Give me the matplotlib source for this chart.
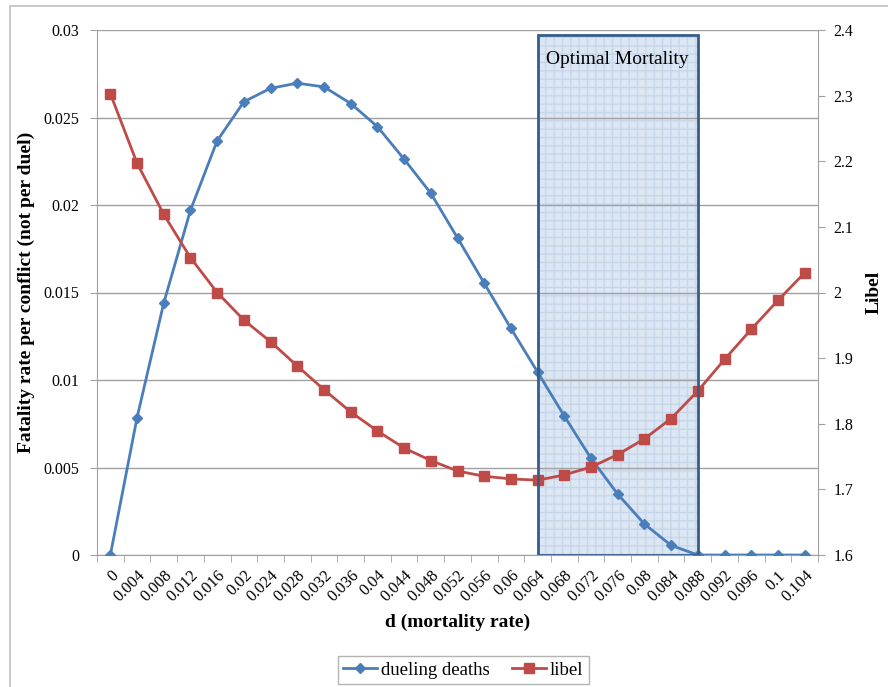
import numpy as np
import matplotlib.pyplot as plt
from matplotlib.patches import Rectangle

plt.rcParams['font.family'] = ['Liberation Serif', 'DejaVu Serif']

# mortality rate categories
d_labels = ['0', '0.004', '0.008', '0.012', '0.016', '0.02', '0.024', '0.028',
            '0.032', '0.036', '0.04', '0.044', '0.048', '0.052', '0.056', '0.06',
            '0.064', '0.068', '0.072', '0.076', '0.08', '0.084', '0.088', '0.092',
            '0.096', '0.1', '0.104']

dueling_deaths = [0, 0.00785, 0.0144, 0.0197, 0.02367, 0.0259, 0.02667, 0.02696,
                  0.02675, 0.0258, 0.02448, 0.02262, 0.02067, 0.01812, 0.01553,
                  0.01295, 0.01045, 0.00794, 0.00552, 0.00348, 0.00177, 0.00055,
                  0, 0, 0, 0, 0]

libel = [2.303, 2.197, 2.119, 2.053, 2.000, 1.958, 1.925, 1.888, 1.852, 1.818,
         1.789, 1.763, 1.744, 1.728, 1.720, 1.716, 1.714, 1.722, 1.734, 1.753,
         1.777, 1.808, 1.850, 1.898, 1.944, 1.988, 2.030]

opt_lo, opt_hi = '0.064', '0.088'

blue = '#4a7ebb'
red = '#be4b48'
grid_c = '#a0a0a0'

fig = plt.figure(figsize=(8.88, 6.87), dpi=100)
ax = fig.add_axes([97/888, 132/687, 721/888, 525/687])
ax2 = ax.twinx()

x = np.arange(len(d_labels))

# optimal mortality box
i0 = d_labels.index(opt_lo)
i1 = d_labels.index(opt_hi)
ax.add_patch(Rectangle((i0, 0), i1 - i0, 0.0297, facecolor='#dde7f3',
                       edgecolor='#c6d6ea', hatch='++', linewidth=0, zorder=1))
ax.add_patch(Rectangle((i0, 0), i1 - i0, 0.0297, facecolor='none',
                       edgecolor='#355d8c', linewidth=2, zorder=4))
ax.text(i0 + (i1 - i0) / 2, 0.0283, 'Optimal Mortality', ha='center', va='center',
        fontsize=14, zorder=5)

l1, = ax.plot(x, dueling_deaths, color=blue, lw=2, marker='D', ms=5,
              zorder=3, label='dueling deaths')
ax.set_zorder(ax2.get_zorder() + 1)
ax.patch.set_visible(False)
# libel drawn on ax but in ax2's data coordinates so it sits above the box
l2, = ax.plot(x, libel, color=red, lw=2, marker='s', ms=7, zorder=3,
              label='libel', transform=ax2.transData)

ax.set_xlim(-0.5, len(d_labels) - 0.5)
ax.set_ylim(0, 0.03)
ax2.set_ylim(1.6, 2.4)

ax.set_yticks(np.arange(0, 0.0301, 0.005))
ax.set_yticklabels(['0', '0.005', '0.01', '0.015', '0.02', '0.025', '0.03'])
ax2.set_yticks(np.arange(1.6, 2.401, 0.1))
ax2.set_yticklabels(['1.6', '1.7', '1.8', '1.9', '2', '2.1', '2.2', '2.3', '2.4'])

ax.set_xticks(x)
ax.set_xticklabels(d_labels, rotation=45, ha='right', rotation_mode='anchor')
ax.set_xticks(np.arange(-0.5, len(d_labels)), minor=True)
ax.tick_params(axis='x', which='major', length=0, labelsize=11.8, pad=9)
ax.tick_params(axis='x', which='minor', length=5, color=grid_c)
ax.tick_params(axis='y', labelsize=11.5, length=5, color=grid_c, pad=8)
ax2.tick_params(axis='y', labelsize=11.5, length=5, color=grid_c, pad=6)

ax.grid(axis='y', color=grid_c, lw=1)
for a in (ax, ax2):
    a.spines['top'].set_visible(False)
    for s in ('left', 'right', 'bottom'):
        a.spines[s].set_color(grid_c)
ax.spines['right'].set_visible(False)
ax2.spines['left'].set_visible(False)
ax2.spines['bottom'].set_visible(False)

ax.set_xlabel('d (mortality rate)', fontsize=14, fontweight='bold', labelpad=6)
ax.set_ylabel('Fatality rate per conflict (not per duel)', fontsize=14,
              fontweight='bold', labelpad=6)
ax2.set_ylabel('Libel', fontsize=14, fontweight='bold', labelpad=9)

leg = fig.legend(handles=[l1, l2], loc='center', bbox_to_anchor=(463/888, 1 - 670/687),
                 ncol=2, fontsize=13.5, frameon=True, fancybox=False,
                 handlelength=1.8, handletextpad=0.2, columnspacing=1.2,
                 borderpad=0.3)
leg.get_frame().set_edgecolor('#a0a0a0')
leg.get_frame().set_linewidth(1)

# chart area border
fig.patches.append(Rectangle((10/888, -0.01), 1.0, 1 - 6/687 + 0.01,
                             transform=fig.transFigure, fill=False,
                             edgecolor='#c0c0c0', lw=1.2))

fig.savefig('out.png', dpi=100)
